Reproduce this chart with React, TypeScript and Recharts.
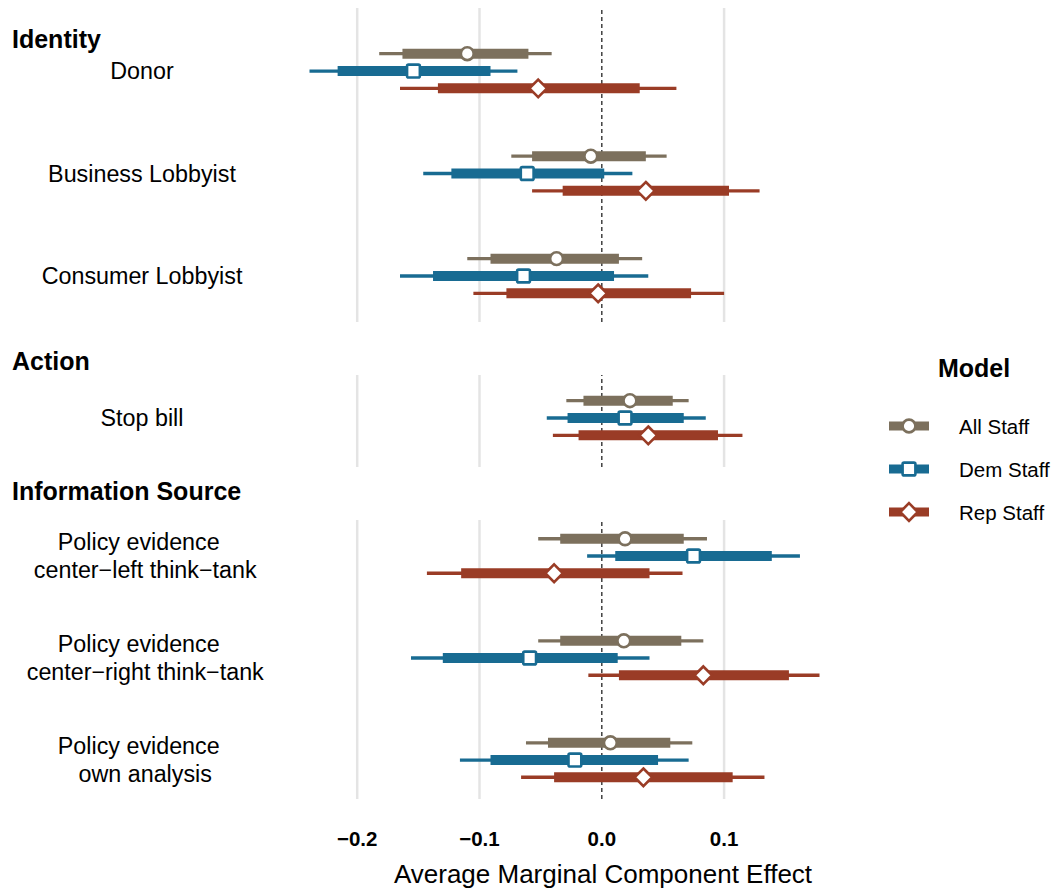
import React from "react";
import { ComposedChart, Scatter, ErrorBar, XAxis, YAxis, ReferenceLine, Legend } from "recharts";

// attribute levels, top to bottom
const items = [
  "Donor",
  "Business Lobbyist",
  "Consumer Lobbyist",
  "Stop bill",
  "Policy evidence \n center\u2212left think\u2212tank",
  "Policy evidence \n center\u2212right think\u2212tank",
  "Policy evidence \n own analysis",
];
const facets = ["Identity", "Action", "Information Source"];
const itemFacet = [0, 0, 0, 1, 2, 2, 2];
const models = ["All Staff", "Dem Staff", "Rep Staff"];
const xTicks = [-0.2, -0.1, 0, 0.1];

// AMCE point estimates with 95% (thin) and 90% (thick) intervals
const allEst = [-0.11, -0.009, -0.037, 0.023, 0.019, 0.018, 0.007];
const allLo95 = [-0.182, -0.074, -0.11, -0.029, -0.052, -0.052, -0.062];
const allHi95 = [-0.041, 0.053, 0.033, 0.071, 0.086, 0.083, 0.074];
const allLo90 = [-0.163, -0.057, -0.091, -0.015, -0.034, -0.034, -0.044];
const allHi90 = [-0.06, 0.036, 0.014, 0.058, 0.067, 0.065, 0.056];

const demEst = [-0.154, -0.061, -0.064, 0.019, 0.075, -0.059, -0.022];
const demLo95 = [-0.239, -0.146, -0.165, -0.045, -0.012, -0.156, -0.116];
const demHi95 = [-0.069, 0.025, 0.038, 0.085, 0.162, 0.039, 0.071];
const demLo90 = [-0.216, -0.123, -0.138, -0.028, 0.011, -0.13, -0.091];
const demHi90 = [-0.091, 0.002, 0.01, 0.067, 0.139, 0.013, 0.046];

const repEst = [-0.052, 0.036, -0.003, 0.038, -0.039, 0.083, 0.034];
const repLo95 = [-0.165, -0.057, -0.105, -0.04, -0.143, -0.011, -0.066];
const repHi95 = [0.061, 0.129, 0.1, 0.115, 0.066, 0.178, 0.133];
const repLo90 = [-0.134, -0.032, -0.078, -0.019, -0.115, 0.014, -0.039];
const repHi90 = [0.031, 0.104, 0.073, 0.095, 0.039, 0.153, 0.107];

const stats = [
  { est: allEst, lo95: allLo95, hi95: allHi95, lo90: allLo90, hi90: allHi90 },
  { est: demEst, lo95: demLo95, hi95: demHi95, lo90: demLo90, hi90: demHi90 },
  { est: repEst, lo95: repLo95, hi95: repHi95, lo90: repLo90, hi90: repHi90 },
];

const FONT = '"Liberation Sans", Arial, Helvetica, sans-serif';
const COLORS = ["#7c705d", "#186b92", "#9a3c26"];
const SHAPES = ["circle", "square", "diamond"];
const DODGE = 0.169;
const LABEL_W = 284;
const PLOT_W = 561;

// x range padded 5% like ggplot
const lows = stats.flatMap((s) => s.lo95);
const highs = stats.flatMap((s) => s.hi95);
const xMin = Math.min(...lows);
const xMax = Math.max(...highs);
const pad = (xMax - xMin) * 0.05;
const xDomain: [number, number] = [xMin - pad, xMax + pad];

const fmtTick = (v: number) => (v < 0 ? "\u2212" : "") + Math.abs(v).toFixed(1);

function Marker({ kind, cx, cy, color }: { kind: string; cx: number; cy: number; color: string }) {
  if (kind === "circle")
    return <circle cx={cx} cy={cy} r={6.4} fill="#fff" stroke={color} strokeWidth={2.6} />;
  if (kind === "square")
    return (
      <rect x={cx - 6.4} y={cy - 6.4} width={12.8} height={12.8} rx={1.5} fill="#fff" stroke={color} strokeWidth={2.6} />
    );
  const r = 8.8;
  return (
    <polygon
      points={`${cx},${cy - r} ${cx + r},${cy} ${cx},${cy + r} ${cx - r},${cy}`}
      fill="#fff"
      stroke={color}
      strokeWidth={2.6}
    />
  );
}

function ItemTick(props: any) {
  const { y, payload, rows } = props;
  const label = items[rows[payload.value]] ?? "";
  const lines = label.split("\n");
  return (
    <text x={LABEL_W / 2} y={y} textAnchor="middle" fontSize={23.3} fill="#000" style={{ whiteSpace: "pre" }}>
      {lines.map((ln: string, i: number) => (
        <tspan key={i} x={LABEL_W / 2} y={y + (i - (lines.length - 1) / 2) * 28} dy="0.36em">
          {ln}
        </tspan>
      ))}
    </text>
  );
}

function ModelKey() {
  return (
    <svg width={176} height={200} style={{ fontFamily: FONT }}>
      <text x={58} y={37} fontSize={25} fontWeight={700} fill="#000">
        Model
      </text>
      {models.map((name, m) => {
        const cy = 86 + m * 43;
        return (
          <g key={name}>
            <line x1={9} x2={49} y1={cy} y2={cy} stroke={COLORS[m]} strokeWidth={9} />
            <Marker kind={SHAPES[m]} cx={29} cy={cy} color={COLORS[m]} />
            <text x={79} y={cy + 7.5} fontSize={20.5} fill="#000">
              {name}
            </text>
          </g>
        );
      })}
    </svg>
  );
}

const panels = [
  { facet: 0, top: 0, height: 330, margin: { top: 8, right: 0, bottom: 8, left: 0 }, yDomain: [-0.615, 2.449], headingTop: 26.8 },
  { facet: 1, top: 340, height: 200, margin: { top: 35, right: 211, bottom: 73, left: 0 }, yDomain: [-0.4195, 0.478], headingTop: 348.8 },
  { facet: 2, top: 510, height: 378, margin: { top: 10, right: 0, bottom: 0, left: 0 }, yDomain: [-0.353, 2.382], headingTop: 478.8 },
];

function Panel({ p, last }: { p: (typeof panels)[number]; last: boolean }) {
  const rows = items.map((_, i) => i).filter((i) => itemFacet[i] === p.facet);
  const width = LABEL_W + PLOT_W + p.margin.right;
  return (
    <div style={{ position: "absolute", left: 0, top: p.top }}>
      <ComposedChart width={width} height={p.height} margin={p.margin}>
        <XAxis
          type="number"
          dataKey="x"
          domain={xDomain}
          allowDataOverflow
          ticks={xTicks}
          tickFormatter={fmtTick}
          hide={!last}
          height={89}
          axisLine={false}
          tickLine={false}
          tickSize={0}
          tickMargin={32}
          tick={{ fill: "#000", fontSize: 20.5, fontWeight: 700 }}
        />
        <YAxis
          type="number"
          dataKey="y"
          domain={p.yDomain}
          allowDataOverflow
          reversed
          ticks={rows.map((_, j) => j)}
          interval={0}
          width={LABEL_W}
          axisLine={false}
          tickLine={false}
          tick={<ItemTick rows={rows} />}
        />
        {xTicks
          .filter((t) => t !== 0)
          .map((t) => (
            <ReferenceLine key={t} x={t} stroke="#e4e4e4" strokeWidth={2.5} />
          ))}
        <ReferenceLine x={0} stroke="#333" strokeDasharray="4 3" strokeWidth={1.4} />
        {models.map((name, m) => {
          const s = stats[m];
          const data = rows.map((i, j) => ({
            x: s.est[i],
            y: j + (m - 1) * DODGE,
            thin: [s.est[i] - s.lo95[i], s.hi95[i] - s.est[i]],
            thick: [s.est[i] - s.lo90[i], s.hi90[i] - s.est[i]],
          }));
          return (
            <Scatter
              key={name}
              name={name}
              data={data}
              fill={COLORS[m]}
              isAnimationActive={false}
              shape={(sp: any) => <Marker kind={SHAPES[m]} cx={sp.cx} cy={sp.cy} color={COLORS[m]} />}
            >
              <ErrorBar dataKey="thin" direction="x" width={0} stroke={COLORS[m]} strokeWidth={3.3} isAnimationActive={false} />
              <ErrorBar dataKey="thick" direction="x" width={0} stroke={COLORS[m]} strokeWidth={10} isAnimationActive={false} />
            </Scatter>
          );
        })}
        {p.facet === 1 && (
          <Legend
            layout="vertical"
            align="center"
            verticalAlign="middle"
            wrapperStyle={{ left: 880, top: 0, width: 176, height: 200 }}
            content={() => <ModelKey />}
          />
        )}
      </ComposedChart>
    </div>
  );
}

export default function App() {
  return (
    <div
      style={{
        position: "absolute",
        left: 0,
        top: 0,
        width: 1056,
        height: 888,
        background: "#fff",
        fontFamily: FONT,
        overflow: "hidden",
      }}
    >
      {panels.map((p, k) => (
        <Panel key={p.facet} p={p} last={k === panels.length - 1} />
      ))}
      {panels.map((p) => (
        <div
          key={"h" + p.facet}
          style={{ position: "absolute", left: 12, top: p.headingTop, fontSize: 25, fontWeight: 700, lineHeight: 1, whiteSpace: "nowrap" }}
        >
          {facets[p.facet]}
        </div>
      ))}
      <div
        style={{
          position: "absolute",
          left: 303,
          width: 600,
          top: 861,
          textAlign: "center",
          fontSize: 26,
          lineHeight: 1,
          whiteSpace: "nowrap",
        }}
      >
        Average Marginal Component Effect
      </div>
    </div>
  );
}
